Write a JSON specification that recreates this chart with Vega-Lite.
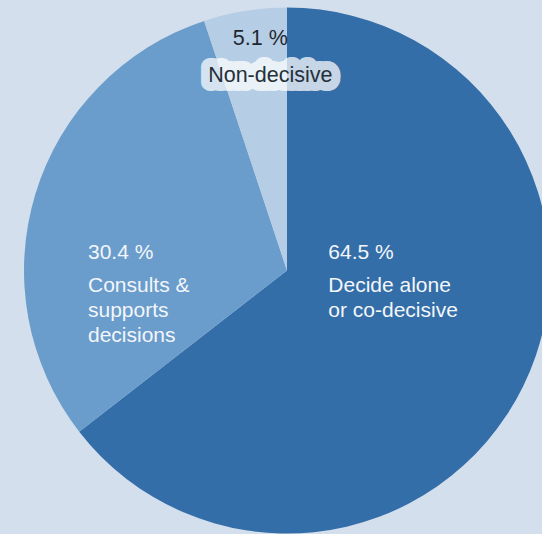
{
  "$schema": "https://vega.github.io/schema/vega-lite/v6.json",
  "autosize": {"type": "fit", "contains": "padding"},
  "width": 542,
  "height": 534,
  "padding": {"left": 32, "top": 7, "right": 0, "bottom": 0},
  "background": "#d4dfed",
  "view": {"stroke": null},
  "data": {
    "values": [
      {"category": "Decide alone or co-decisive", "lines": ["Decide alone", "or co-decisive"], "value": 64.5, "pct": "64.5 %", "rank": 1},
      {"category": "Consults & supports decisions", "lines": ["Consults &", "supports", "decisions"], "value": 30.4, "pct": "30.4 %", "rank": 2},
      {"category": "Non-decisive", "lines": ["Non-decisive"], "value": 5.1, "pct": "5.1 %", "rank": 3}
    ]
  },
  "encoding": {
    "theta": {"field": "value", "type": "quantitative", "stack": true},
    "order": {"field": "rank", "type": "quantitative"}
  },
  "layer": [
    {
      "mark": {"type": "arc", "outerRadius": 263, "stroke": null},
      "encoding": {
        "color": {
          "field": "category",
          "type": "nominal",
          "scale": {
            "domain": ["Decide alone or co-decisive", "Consults & supports decisions", "Non-decisive"],
            "range": ["#336ea8", "#6a9dcb", "#b6cee5"]
          },
          "legend": null
        }
      }
    },
    {
      "mark": {"type": "text", "radius": 46, "align": "left", "baseline": "alphabetic", "dy": -31.7, "fontSize": 21, "font": "Liberation Sans", "color": "#f3f6fa"},
      "encoding": {
        "text": {"condition": {"test": "datum.rank === 1", "field": "pct"}, "value": ""}
      }
    },
    {
      "mark": {"type": "text", "radius": 46, "align": "left", "baseline": "alphabetic", "dy": 1.0, "lineHeight": 25.7, "fontSize": 21, "font": "Liberation Sans", "color": "#f3f6fa"},
      "encoding": {
        "text": {"condition": {"test": "datum.rank === 1", "field": "lines"}, "value": ""}
      }
    },
    {
      "mark": {"type": "text", "radius": 208, "align": "left", "baseline": "alphabetic", "dy": 49, "fontSize": 21, "font": "Liberation Sans", "color": "#f3f6fa"},
      "encoding": {
        "text": {"condition": {"test": "datum.rank === 2", "field": "pct"}, "value": ""}
      }
    },
    {
      "mark": {"type": "text", "radius": 208, "align": "left", "baseline": "alphabetic", "dy": 81.7, "lineHeight": 25.2, "fontSize": 21, "font": "Liberation Sans", "color": "#f3f6fa"},
      "encoding": {
        "text": {"condition": {"test": "datum.rank === 2", "field": "lines"}, "value": ""}
      }
    },
    {
      "mark": {"type": "text", "radius": 235, "align": "center", "baseline": "alphabetic", "dx": 10.8, "dy": 6.5, "fontSize": 21.5, "font": "Liberation Sans", "color": "#1f2730"},
      "encoding": {
        "text": {"condition": {"test": "datum.rank === 3", "field": "pct"}, "value": ""}
      }
    },
    {
      "mark": {"type": "text", "radius": 200, "align": "center", "baseline": "alphabetic", "dx": 15.2, "dy": 8.9, "fontSize": 21.5, "font": "Liberation Sans", "color": "#ffffff", "stroke": "#ffffff", "strokeWidth": 18, "strokeJoin": "round", "opacity": 0.72},
      "encoding": {
        "text": {"condition": {"test": "datum.rank === 3", "field": "lines"}, "value": ""}
      }
    },
    {
      "mark": {"type": "text", "radius": 200, "align": "center", "baseline": "alphabetic", "dx": 15.2, "dy": 8.9, "fontSize": 21.5, "font": "Liberation Sans", "color": "#253039"},
      "encoding": {
        "text": {"condition": {"test": "datum.rank === 3", "field": "lines"}, "value": ""}
      }
    }
  ]
}
